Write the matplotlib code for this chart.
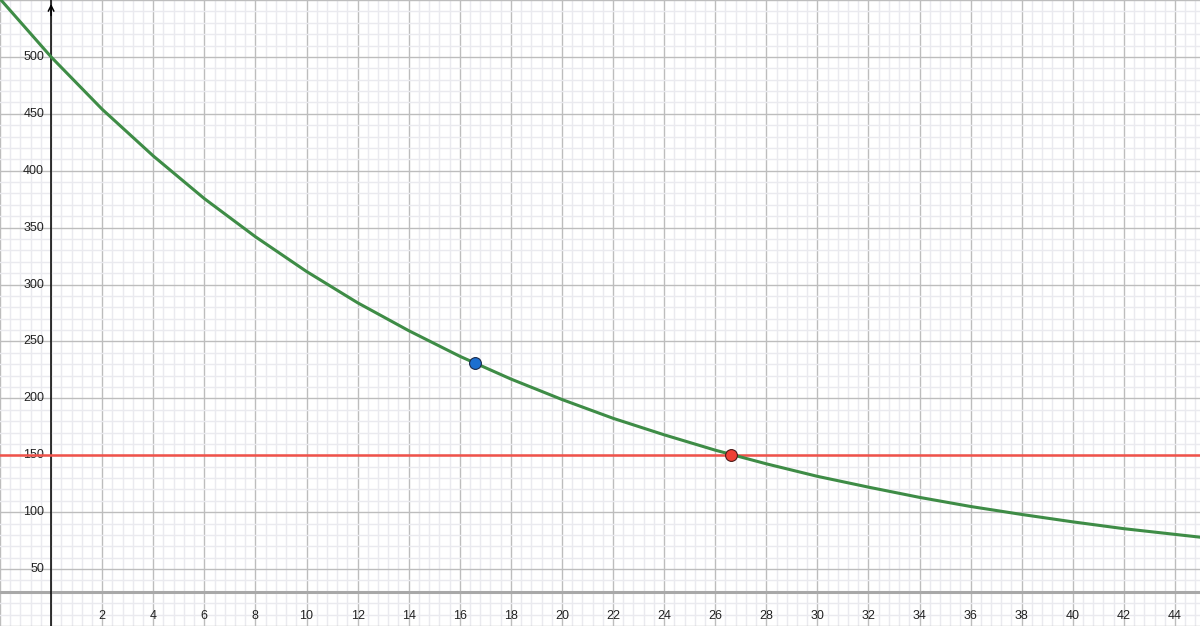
import numpy as np
import matplotlib
matplotlib.use("Agg")
import matplotlib.pyplot as plt

# ==============================
# Data
# ==============================

curve_x = [-2, 0, 2, 4, 6, 8, 10, 12, 14, 16, 18, 20, 22,
           24, 26, 28, 30, 32, 34, 36, 38, 40, 42, 44, 45]
curve_y = [551, 500, 454, 413, 375.5, 342, 311.5, 284, 259.5, 237, 217, 199,
           182.5, 168, 154.5, 142.5, 131.5, 122, 113, 105, 98, 91.5, 85.5,
           80.5, 78]

level_y = 150
blue_pt = (16.6, 231)
red_pt = (26.6, 150)

x_labels = list(range(2, 45, 2))
y_labels = list(range(50, 501, 50))

# view window
x_min, x_max = -2.0, 44.98
y_min, y_max = 0, 549
x_axis_y = 29.8   # where the x axis is drawn (stuck to the bottom)

# ==============================
# Figure
# ==============================

plt.rcParams["font.family"] = ["Liberation Sans", "DejaVu Sans"]

fig = plt.figure(figsize=(12, 6.26), dpi=100)
ax = fig.add_axes([0, 0, 1, 1])
ax.set_xlim(x_min, x_max)
ax.set_ylim(y_min, y_max)
for s in ax.spines.values():
    s.set_visible(False)

# grid
ax.set_xticks(np.arange(-2, 46, 2))
ax.set_xticks(np.arange(-2, 45.2, 0.4), minor=True)
ax.set_yticks(np.arange(0, 551, 50))
ax.set_yticks(np.arange(0, 551, 10), minor=True)
ax.tick_params(which="both", length=0, labelbottom=False, labelleft=False)
ax.grid(which="minor", color="#eaeaef", linewidth=1.0)
ax.grid(which="major", color="#bdbdbd", linewidth=1.0)
ax.set_axisbelow(True)

# axes
ax.axhline(x_axis_y, color="#a8a8a8", linewidth=2.2, zorder=2)
ax.axvline(0, color="black", linewidth=1.1, zorder=2)
ax.annotate("", xy=(0, y_max), xytext=(0, y_max - 15),
            arrowprops=dict(arrowstyle="->", color="black", lw=1.1,
                            mutation_scale=10), zorder=3)

# tick labels
for v in y_labels:
    ax.annotate(str(v), xy=(0, v), xytext=(-5, 0), textcoords="offset points",
                ha="right", va="center", fontsize=9, color="#222222")
for v in x_labels:
    ax.annotate(str(v), xy=(v, x_axis_y), xytext=(0, -17),
                textcoords="offset points", ha="center", va="center",
                fontsize=9, color="#222222")

# lines and points
ax.axhline(level_y, color="#f0524a", linewidth=1.8, zorder=3)
ax.plot(curve_x, curve_y, color="#3e8c46", linewidth=2.2, zorder=4,
        solid_capstyle="round", solid_joinstyle="round")
ax.plot(*blue_pt, "o", color="#1c6fd0", markersize=8.5,
        markeredgecolor="#1a2a4a", markeredgewidth=0.8, zorder=5)
ax.plot(*red_pt, "o", color="#ef4135", markersize=8.5,
        markeredgecolor="#4a1a1a", markeredgewidth=0.8, zorder=5)

fig.savefig("out.png", dpi=100)
